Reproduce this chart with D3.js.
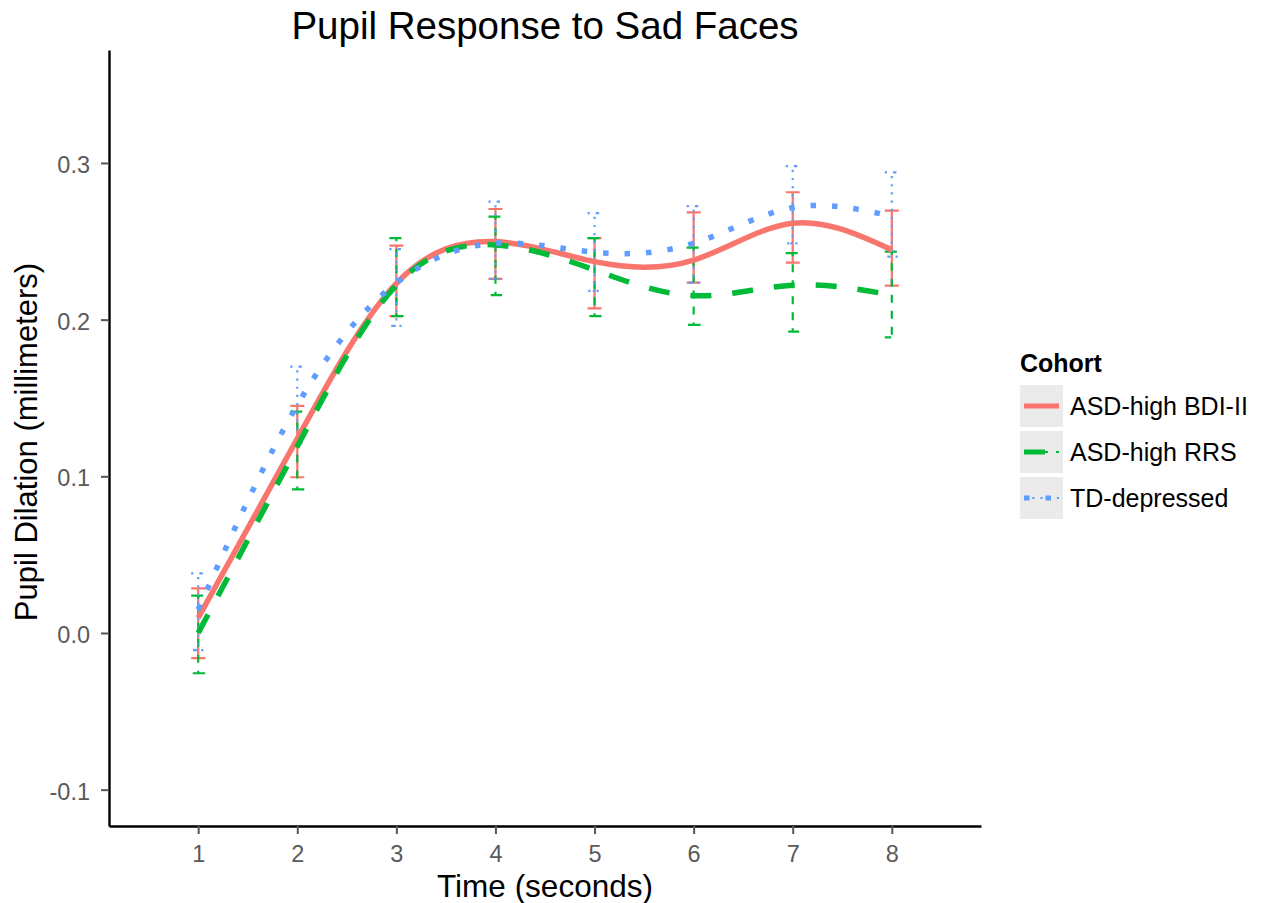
<!DOCTYPE html>
<html>
<head>
<meta charset="utf-8">
<script src="https://cdn.jsdelivr.net/npm/d3@7"></script>
<style>
  body { margin: 0; background: #fff; }
  text { font-family: "Liberation Sans", Arial, Helvetica, sans-serif; }
</style>
</head>
<body>
<div id="chart"></div>
<script>
// time points (seconds)
var times = [1, 2, 3, 4, 5, 6, 7, 8];

// cohorts, in legend order
var cohorts = ["ASD-high BDI-II", "ASD-high RRS", "TD-depressed"];

// smoothed curve at each time point
var fitBDI = [0.0096, 0.124, 0.2232, 0.2498, 0.237, 0.238, 0.2615, 0.2445];
var fitRRS = [0.0, 0.119, 0.222, 0.2477, 0.2317, 0.2153, 0.222, 0.2157];
var fitTD  = [0.015, 0.1455, 0.2234, 0.2487, 0.243, 0.2487, 0.2715, 0.266];

// error bar bounds
var loBDI = [-0.016, 0.0994, 0.2023, 0.226, 0.2072, 0.2236, 0.2364, 0.2217];
var hiBDI = [0.0285, 0.145, 0.2472, 0.2706, 0.252, 0.2685, 0.2813, 0.2696];
var loRRS = [-0.0257, 0.0917, 0.2023, 0.2157, 0.2023, 0.1966, 0.1923, 0.1887];
var hiRRS = [0.0238, 0.1413, 0.252, 0.2657, 0.252, 0.246, 0.2424, 0.2434];
var loTD  = [-0.011, 0.121, 0.196, 0.226, 0.2183, 0.2236, 0.2487, 0.2402];
var hiTD  = [0.038, 0.170, 0.245, 0.2753, 0.268, 0.2725, 0.298, 0.294];

var yTicks = [-0.1, 0.0, 0.1, 0.2, 0.3];

var series = [
  {name: cohorts[0], fit: fitBDI, lo: loBDI, hi: hiBDI, color: "#F8766D", dash: null, thinDash: null},
  {name: cohorts[1], fit: fitRRS, lo: loRRS, hi: hiRRS, color: "#00BA38", dash: "21,21", thinDash: "8,8"},
  {name: cohorts[2], fit: fitTD,  lo: loTD,  hi: hiTD,  color: "#619CFF", dash: "5.5,16", thinDash: "2.2,6"}
];

var width = 1267, height = 903,
    margin = {top: 50, right: 286, bottom: 77, left: 109};

var svg = d3.select("#chart").append("svg")
  .attr("width", width)
  .attr("height", height);

var x = d3.scaleLinear().domain([0.1, 8.9]).range([margin.left, width - margin.right]);
var y = d3.scaleLinear().domain([-0.1232, 0.3721]).range([height - margin.bottom, margin.top]);

// axes
var xAxis = svg.append("g")
  .attr("transform", "translate(0," + (height - margin.bottom) + ")")
  .call(d3.axisBottom(x).tickValues(times).tickSize(8).tickSizeOuter(0).tickPadding(11)
    .tickFormat(d3.format("d")));
var yAxis = svg.append("g")
  .attr("transform", "translate(" + margin.left + ",0)")
  .call(d3.axisLeft(y).tickValues(yTicks).tickSize(8).tickSizeOuter(0).tickPadding(11)
    .tickFormat(function(d) { return d3.format(".1f")(d).replace("\u2212", "-"); }));

[xAxis, yAxis].forEach(function(ax) {
  ax.select(".domain").attr("stroke", "#000").attr("stroke-width", 2.4);
  ax.selectAll(".tick line").attr("stroke", "#555").attr("stroke-width", 2);
  ax.selectAll(".tick text").attr("fill", "#5a5a5a").style("font-size", "23.5px")
    .style("font-family", "'Liberation Sans', Arial, sans-serif");
});
yAxis.selectAll(".tick text").attr("dy", "0.4em");

// error bars (drawn as one path like ggplot: top cap, stem, bottom cap)
var capHalf = 7;
series.forEach(function(s) {
  svg.append("g").selectAll("path")
    .data(times)
    .enter().append("path")
    .attr("d", function(t, i) {
      var cx = x(t), yt = y(s.hi[i]), yb = y(s.lo[i]);
      return "M" + (cx - capHalf) + "," + yt + "H" + (cx + capHalf) + "H" + cx +
             "V" + yb + "H" + (cx - capHalf) + "H" + (cx + capHalf);
    })
    .attr("fill", "none")
    .attr("stroke", s.color)
    .attr("stroke-width", 2.2)
    .attr("stroke-dasharray", s.thinDash);
});

// smoothed lines
var line = d3.line()
  .x(function(d, i) { return x(times[i]); })
  .y(function(d) { return y(d); })
  .curve(d3.curveNatural);

series.forEach(function(s) {
  svg.append("path")
    .datum(s.fit)
    .attr("d", line)
    .attr("fill", "none")
    .attr("stroke", s.color)
    .attr("stroke-width", 5.5)
    .attr("stroke-dasharray", s.dash);
});

// titles
svg.append("text")
  .attr("x", (margin.left + width - margin.right) / 2)
  .attr("y", 39)
  .style("text-anchor", "middle")
  .style("font-size", "38.5px")
  .text("Pupil Response to Sad Faces");

svg.append("text")
  .attr("x", (margin.left + width - margin.right) / 2)
  .attr("y", 897)
  .style("text-anchor", "middle")
  .style("font-size", "31.5px")
  .text("Time (seconds)");

svg.append("text")
  .attr("transform", "translate(37," + ((margin.top + height - margin.bottom) / 2 + 4) + ") rotate(-90)")
  .style("text-anchor", "middle")
  .style("font-size", "31px")
  .text("Pupil Dilation (millimeters)");

// legend
var legend = svg.append("g").attr("transform", "translate(1020,0)");
legend.append("text")
  .attr("x", 0)
  .attr("y", 372)
  .style("font-size", "25px")
  .style("font-weight", "bold")
  .text("Cohort");

var key = legend.selectAll("g.key")
  .data(series)
  .enter().append("g")
  .attr("class", "key")
  .attr("transform", function(d, i) { return "translate(0," + (385 + i * 46) + ")"; });

key.append("rect")
  .attr("width", 43)
  .attr("height", 42)
  .attr("fill", "#ebebeb");

key.append("line")
  .attr("x1", 4).attr("x2", 39).attr("y1", 21).attr("y2", 21)
  .attr("stroke", function(d) { return d.color; })
  .attr("stroke-width", 2)
  .attr("stroke-dasharray", function(d) { return d.thinDash; });

key.append("line")
  .attr("x1", 4).attr("x2", 39).attr("y1", 21).attr("y2", 21)
  .attr("stroke", function(d) { return d.color; })
  .attr("stroke-width", 5)
  .attr("stroke-dasharray", function(d) { return d.dash; });

key.append("text")
  .attr("x", 50)
  .attr("y", 21)
  .attr("dy", "0.36em")
  .style("font-size", "25px")
  .text(function(d) { return d.name; });
</script>
</body>
</html>
